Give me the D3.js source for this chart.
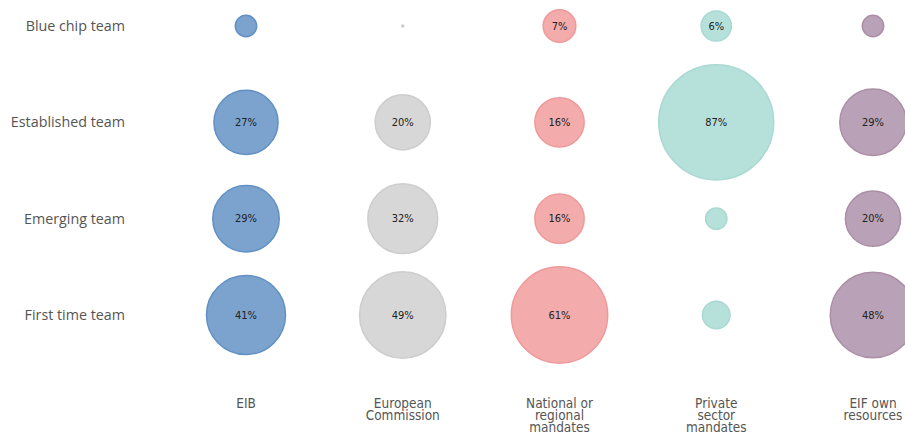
<!DOCTYPE html>
<html>
<head>
<meta charset="utf-8">
<script src="https://cdn.jsdelivr.net/npm/d3@7"></script>
<style>
  body { margin: 0; background: #fff; }
  svg { display: block; }
</style>
</head>
<body>
<div id="chart"></div>
<script>
// rows (team experience) and columns (mandate)
const teams = ["Blue chip team", "Established team", "Emerging team", "First time team"];
const mandates = [["EIB"], ["European", "Commission"], ["National or", "regional", "mandates"], ["Private", "sector", "mandates"], ["EIF own", "resources"]];

// share of each mandate by team type, %
const eib      = [3, 27, 29, 41];
const ec       = [0.03, 20, 32, 49];
const national = [7, 16, 16, 61];
const priv     = [6, 87, 3, 5];
const eifOwn   = [3, 29, 20, 48];
const series = [eib, ec, national, priv, eifOwn];

const fills   = ["#7ba3cd", "#d7d7d7", "#f4abab", "#b6e0da", "#b9a2b7"];
const strokes = ["#6190c5", "#cdcdcd", "#ef9a9a", "#a9d9d2", "#aa8fa7"];

const width = 905, height = 434;

const svg = d3.select("#chart").append("svg")
    .attr("width", width)
    .attr("height", height);

const x = d3.scalePoint()
    .domain(d3.range(mandates.length))
    .range([246, 873]);

const y = d3.scalePoint()
    .domain(teams)
    .range([26, 315]);

const r = d3.scaleSqrt()
    .domain([0, 100])
    .range([0, 61.7]);

// flatten to cells
let cells = [];
series.forEach((vals, ci) => {
    vals.forEach((v, ti) => {
        cells.push({col: ci, team: teams[ti], value: v});
    });
});

svg.selectAll(".bubble")
    .data(cells)
    .join("circle")
    .attr("class", "bubble")
    .attr("cx", d => x(d.col))
    .attr("cy", d => y(d.team))
    .attr("r", d => r(d.value))
    .attr("fill", d => fills[d.col])
    .attr("stroke", d => strokes[d.col])
    .attr("stroke-width", 1.5);

// percentage labels only on the bigger bubbles
svg.selectAll(".val")
    .data(cells.filter(d => d.value >= 6))
    .join("text")
    .attr("class", "val")
    .attr("x", d => x(d.col))
    .attr("y", d => y(d.team) + 3.5)
    .attr("text-anchor", "middle")
    .attr("font-family", "'Liberation Sans Narrow', 'DejaVu Sans Condensed', sans-serif")
    .attr("font-size", "11px")
    .attr("fill", "#222")
    .text(d => d.value + "%");

// row labels
svg.selectAll(".rowlab")
    .data(teams)
    .join("text")
    .attr("class", "rowlab")
    .attr("x", 125)
    .attr("y", d => y(d) + 5)
    .attr("text-anchor", "end")
    .attr("font-family", "'Open Sans', sans-serif")
    .attr("font-size", "14.3px")
    .attr("fill", "#555")
    .text(d => d);

// column labels
const colLab = svg.selectAll(".collab")
    .data(mandates)
    .join("text")
    .attr("class", "collab")
    .attr("text-anchor", "middle")
    .attr("font-family", "'Liberation Sans Narrow', 'DejaVu Sans Condensed', sans-serif")
    .attr("font-size", "13.5px")
    .attr("fill", "#555")
    .attr("transform", (d, i) => `translate(${x(i)}, 408)`);

colLab.selectAll("tspan")
    .data(d => d)
    .join("tspan")
    .attr("x", 0)
    .attr("dy", (d, i) => i === 0 ? 0 : 12)
    .text(d => d);
</script>
</body>
</html>
